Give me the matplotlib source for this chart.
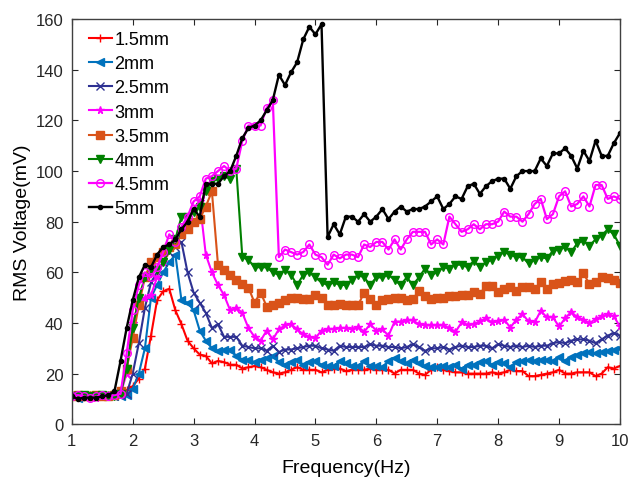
import numpy as np
import matplotlib
matplotlib.use("Agg")
import matplotlib.pyplot as plt

plt.rcParams['font.family'] = ['Liberation Sans', 'DejaVu Sans']

freq = np.round(np.arange(1.0, 10.01, 0.1), 1)

v15 = [11.5, 11, 11.5, 11.5, 11, 11.5, 11, 11.5, 12, 13.5,
       15, 18, 22, 35, 49, 52.5, 53.5, 45, 39.5, 33,
       30, 27.5, 27, 24, 25, 24.5, 23.5, 23.5, 22, 22.5,
       23, 22.5, 21.5, 20.5, 20, 20.5, 21.5, 22.5, 21.5, 21.5,
       21.5, 20.5, 21.5, 22, 22, 21, 21.5, 21.5, 21.5, 22,
       21.5, 21.5, 21.5, 20, 21.5, 21.5, 21.5, 20, 19.5, 21.5,
       22.5, 21.5, 21, 20.5, 20.5, 20, 20, 20, 20, 20.5,
       20, 20.5, 21.5, 21, 21, 19, 19, 19.5, 20, 20.5,
       21.5, 20, 20, 20.5, 20.5, 20.5, 19, 20, 22.5, 22,
       23]
v20 = [11, 10.5, 11, 11, 11, 11, 11.5, 11, 11, 11.5,
       14, 20, 30, 50, 55, 60, 64, 67, 49, 48,
       45, 37, 33, 30, 29, 29.5, 29.5, 27, 25.5, 25.5,
       24.5, 25.5, 26, 27, 24.5, 23.5, 24.5, 25.5, 23.5, 24.5,
       25, 23.5, 23, 23, 25, 24, 23, 23, 25, 23,
       23, 22.5, 25, 26, 25, 24, 25.5, 24, 23, 22.5,
       22.5, 23, 22.5, 23.5, 22, 23.5, 23.5, 24.5, 25, 23.5,
       24.5, 24, 22.5, 24.5, 25, 25.5, 25, 25.5, 25.5, 25,
       26.5, 25, 26.5, 27.5, 28, 28.5, 28, 28.5, 29, 29.5,
       30]
v25 = [11, 11, 11.5, 11, 11, 11, 11.5, 11, 11.5, 12,
       20, 32, 46, 56, 60, 64, 68, 70, 72, 60,
       52, 48, 44, 38, 39.5, 34.5, 34.5, 34.5, 31, 30.5,
       30, 30, 29, 31, 28.5, 29.5, 29.5, 30, 30.5, 31,
       31, 30, 29.5, 29, 31, 30.5, 30.5, 30.5, 30.5, 31.5,
       31, 31, 30.5, 30.5, 30, 30.5, 31.5, 30.5, 29, 30,
       30, 30.5, 29.5, 30.5, 31, 30.5, 30.5, 31, 31, 30,
       31.5, 31, 30.5, 31, 30.5, 31, 30.5, 31, 31, 32,
       32.5, 32, 33, 33.5, 33.5, 33, 32, 33.5, 35, 36,
       35]
v30 = [11, 11.5, 11, 11, 10.5, 11, 11.5, 11, 12, 20,
       40, 48, 50, 51, 58, 64, 70, 73, 76, 80,
       85, 88, 67, 60, 55, 51, 45, 46, 44, 38,
       34.5, 33, 37, 33.5, 37.5, 39, 39.5, 37.5, 35.5, 34.5,
       34, 37, 37.5, 37.5, 38, 38, 37.5, 38.5, 36.5, 39.5,
       37, 37.5, 35, 40.5, 40.5, 41, 41, 39.5, 39, 39,
       39, 39, 38, 36.5, 40.2, 39.3, 39.5, 40.6, 41.8, 40.2,
       40.6, 41.3, 38.2, 41.3, 43.5, 40.6, 40.2, 44.8, 42.2, 42.2,
       38.6, 41.8, 44.4, 42.2, 41.3, 39.9, 41.5, 42.6, 43.5, 42.6,
       38.6]
v35 = [11, 11.5, 11, 11, 11.5, 11, 11, 11.5, 13, 22,
       34, 47, 58, 64, 66, 68, 70, 71, 75, 77,
       80, 81, 86, 92, 63, 61, 59, 57, 55.5, 54,
       48, 52, 46.5, 47, 48, 49, 50, 50, 49.5, 49.5,
       51, 50, 47, 47, 47.5, 47, 47, 47, 52, 49.5,
       47, 49, 49.5, 50, 50, 49, 49.5, 52.5, 50.5, 49.5,
       50, 50, 50.5, 50.5, 51, 51, 52.3, 51.4, 54.7, 54.7,
       52.3, 53.3, 54.4, 52.6, 54.4, 54.4, 53.3, 56, 53.3, 55.3,
       55.7, 56.6, 57, 56, 59.7, 55.3, 56, 58, 57.6, 57,
       55.7]
v40 = [11, 11, 11.5, 11, 11, 11.5, 11, 11, 12, 22,
       38, 50, 58, 60, 61, 64, 69, 73, 82, 82,
       84, 86, 92, 96, 97, 98, 97, 101, 66, 65,
       62, 62, 62, 60, 59, 61, 59, 55, 59, 60,
       58, 56, 55, 56, 55, 55, 57, 59, 58, 55,
       58, 58, 59, 57, 55, 58, 55, 58, 61.5, 59,
       60, 62, 61.5, 63, 63, 62, 64.5, 62, 64, 65,
       66.5, 68, 67, 66, 66, 63.5, 65, 66, 65.5, 68.5,
       69, 70, 68, 71.5, 72.5, 70.5, 73, 74.5, 77, 75,
       70.5]
v45 = [11, 11.5, 11, 10.5, 11, 11.5, 11, 11.5, 12, 28,
       45, 55, 60, 58, 62, 68, 75, 72, 78, 82,
       88, 90, 97, 98, 100, 102, 100, 101, 112, 118,
       118, 118, 125, 128, 66, 69, 68, 67, 68, 71,
       67, 66, 63, 67, 65.5, 67, 67, 66, 71, 70,
       72, 72, 69, 73, 69, 73, 76, 76, 76, 71,
       73, 71, 82, 79, 76, 77, 79, 77, 79, 79,
       80, 84, 82, 82, 80, 83, 87, 89, 81, 83,
       90, 92, 86, 87, 90, 86, 94.5, 94.5, 89, 90,
       89]
v50 = [11, 10, 10.5, 10.5, 10.5, 11, 11.5, 13, 25, 38,
       49, 58, 63, 62, 67, 70, 71, 73, 77, 80,
       85, 82, 95, 95, 95, 98, 100, 106, 113, 117,
       118, 120, 124, 128, 138, 134, 139, 143, 152, 157,
       154, 158, 74, 79, 75, 82, 82, 80, 83, 80,
       82, 85, 81, 84, 86, 84, 85, 85, 86, 88,
       90, 85, 87, 90, 89, 94, 95, 91, 94, 96,
       97, 97, 93, 98, 100, 100, 100, 105, 102, 107,
       107, 109, 106, 101, 108, 104, 112, 106, 106, 111,
       115]

labels = ['1.5mm', '2mm', '2.5mm', '3mm', '3.5mm', '4mm', '4.5mm', '5mm']
series = [v15, v20, v25, v30, v35, v40, v45, v50]
colors = ['#FF0000', '#0072BD', '#2E3192', '#FF00FF', '#D95319', '#008000', '#FF00FF', '#000000']
markers = ['+', '<', 'x', '*', 's', 'v', 'o', '.']

fig = plt.figure(figsize=(6.3, 4.81), dpi=100)
ax = fig.add_axes([0.114, 0.116, 0.870, 0.842])

for vals, lab, c, m in zip(series, labels, colors, markers):
    if m == 'o':
        ax.plot(freq, vals, color=c, marker=m, markersize=5.5, markerfacecolor='none',
                linewidth=1.6, label=lab)
    elif m == '.':
        ax.plot(freq, vals, color=c, marker=m, markersize=6, linewidth=1.7, label=lab)
    else:
        ax.plot(freq, vals, color=c, marker=m, markersize=5.5, linewidth=1.5, label=lab)

ax.set_xlim(1, 10)
ax.set_ylim(0, 160)
ax.set_xticks(range(1, 11))
ax.set_yticks(range(0, 161, 20))
ax.tick_params(direction='in', top=True, right=True, labelsize=12, colors='#262626',
               length=4, pad=6)
for s in ax.spines.values():
    s.set_color('#404040')
    s.set_linewidth(1.0)
ax.set_xlabel('Frequency(Hz)', fontsize=14, labelpad=8)
ax.set_ylabel('RMS Voltage(mV)', fontsize=14, labelpad=3)

ax.legend(loc='upper left', frameon=False, fontsize=13, handlelength=1.25,
          handletextpad=0.15, labelspacing=0.4, borderaxespad=0.25,
          bbox_to_anchor=(0.01, 1.0))

fig.savefig('out.png', dpi=100)
